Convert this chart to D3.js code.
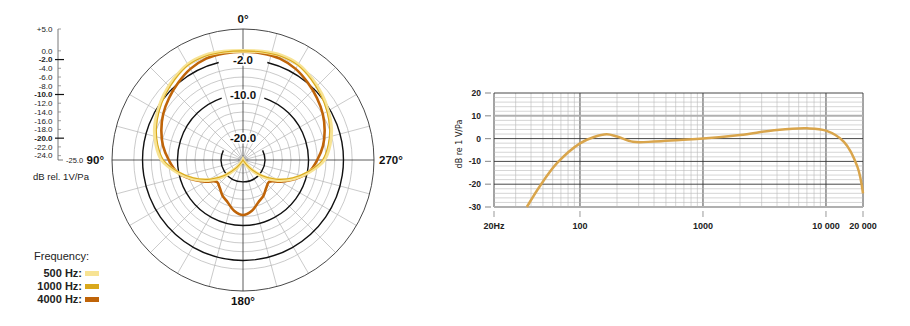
<!DOCTYPE html>
<html>
<head>
<meta charset="utf-8">
<script src="https://cdn.jsdelivr.net/npm/d3@7"></script>
<style>
  body { margin: 0; background: #fff; }
  svg { font-family: "Liberation Sans", Arial, sans-serif; }
</style>
</head>
<body>
<div id="chart"></div>
<script>

// polar pattern, dB per angle (0 = front, 90 = left, 270 = right)
var polarAngles = [0,10,20,30,40,50,60,70,80,90,100,110,120,130,140,150,160,170,
                   180,190,200,210,220,230,240,250,260,270,280,290,300,310,320,330,340,350];
var polar500  = [0,0.2,0.5,0.3,-0.6,-1.5,-2.5,-3.5,-4.8,-6.4,-9.5,-12.6,-15.8,-19.2,-22.5,-24.6,-25,-25,
                 -25,-25,-25,-24.6,-22.5,-19.2,-15.8,-12.6,-9.5,-6.4,-4.8,-3.5,-2.5,-1.5,-0.6,0.3,0.5,0.2];
var polar1000 = [0,0.1,0.3,0.1,-0.8,-1.8,-2.8,-3.9,-5.2,-6.8,-9.8,-13,-16.2,-19.6,-22.8,-24.8,-25,-25,
                 -25,-25,-25,-24.8,-22.8,-19.6,-16.2,-13,-9.8,-6.8,-5.2,-3.9,-2.8,-1.8,-0.8,0.1,0.3,0.1];
var polar4000 = [-0.2,-0.2,-0.3,-0.9,-1.9,-2.9,-3.9,-5.1,-6.4,-8.0,-9.6,-12.3,-15.1,-17.2,-16.7,-15.6,-14.7,-13.2,
                 -12.4,-13.2,-14.7,-15.6,-16.7,-17.2,-15.1,-12.3,-9.6,-8.0,-6.4,-5.1,-3.9,-2.9,-1.9,-0.9,-0.3,-0.2];
var polarTicks = [5,0,-2,-4,-6,-8,-10,-12,-14,-16,-18,-20,-22,-24];
var polarRings = [0,-2,-4,-6,-8,-10,-12,-14,-16,-18,-20,-22,-24];
var polarBold = [-2,-10,-20];
var degreeLabels = ["0°","90°","180°","270°"];
var legendLabels = ["500 Hz:","1000 Hz:","4000 Hz:"];
var legendColors = ["#f7e394","#d9a81c","#bf6409"];

// frequency response
var respFreq = [37,47,65,100,130,165,200,270,400,650,1000,2000,4000,7000,10000,14000,18000,20000];
var respDb   = [-30,-21,-10.8,-2.1,0.7,1.9,0.9,-1.4,-1.3,-0.6,0,1.6,3.8,4.5,3.5,-1.4,-12.3,-24];
var respYTicks = [20,10,0,-10,-20,-30];
var respXTicks = [20,100,1000,10000,20000];
var respXLabels = ["20Hz","100","1000","10 000","20 000"];

var svg = d3.select("#chart").append("svg")
    .attr("width", 910)
    .attr("height", 326);

// ---------- polar ----------
var cx = 243, cy = 160, R = 131;
var r = d3.scaleLinear().domain([-25, 5]).range([0, R]).clamp(true);

var polar = svg.append("g")
    .attr("transform", "translate(" + cx + "," + cy + ")");

polar.selectAll(".ring")
    .data(polarRings.filter(function(d){ return polarBold.indexOf(d) < 0; }))
  .enter().append("circle")
    .attr("r", function(d){ return r(d); })
    .style("fill", "none")
    .style("stroke", "#b3b3b3")
    .style("stroke-width", 0.7);

var spokes = d3.range(0, 360, 15).filter(function(a){ return a % 90 != 0; });
polar.selectAll(".spoke")
    .data(spokes)
  .enter().append("line")
    .attr("x1", 0).attr("y1", 0)
    .attr("x2", function(a){ return -R * Math.sin(a * Math.PI / 180); })
    .attr("y2", function(a){ return -R * Math.cos(a * Math.PI / 180); })
    .style("stroke", "#b3b3b3")
    .style("stroke-width", 0.7);

polar.append("line").attr("x1", -R).attr("x2", R).attr("y1", 0).attr("y2", 0)
    .style("stroke", "#333").style("stroke-width", 0.8);
polar.append("line").attr("y1", -R).attr("y2", R).attr("x1", 0).attr("x2", 0)
    .style("stroke", "#333").style("stroke-width", 0.8);

polar.append("circle").attr("r", R)
    .style("fill", "none").style("stroke", "#333").style("stroke-width", 0.9);
polar.append("circle").attr("r", 3)
    .style("fill", "#bbb").style("stroke", "#999").style("stroke-width", 0.5);

// bold rings, with a gap at the top for their label
var gaps = {"-2": 14, "-10": 19, "-20": 64};
polar.selectAll(".boldring")
    .data(polarBold)
  .enter().append("path")
    .attr("d", function(d){
      var g = gaps[d] * Math.PI / 180;
      return d3.arc().innerRadius(r(d)).outerRadius(r(d))
        .startAngle(g).endAngle(2 * Math.PI - g)();
    })
    .style("fill", "none")
    .style("stroke", "#111")
    .style("stroke-width", 1.4);

var radial = d3.lineRadial()
    .angle(function(d){ return -d[0] * Math.PI / 180; })
    .radius(function(d){ return r(d[1]); })
    .curve(d3.curveCatmullRomClosed.alpha(0.5));

function pairs(vals){ return polarAngles.map(function(a, i){ return [a, vals[i]]; }); }

polar.append("path").attr("d", radial(pairs(polar4000)))
    .style("fill", "none").style("stroke", legendColors[2]).style("stroke-width", 2.6);
polar.append("path").attr("d", radial(pairs(polar500)))
    .style("fill", "none").style("stroke", legendColors[0]).style("stroke-width", 3.6);
polar.append("path").attr("d", radial(pairs(polar1000)))
    .style("fill", "none").style("stroke", legendColors[1]).style("stroke-width", 1.1);

polar.selectAll(".ringlabel")
    .data(polarBold)
  .enter().append("text")
    .attr("x", 0)
    .attr("y", function(d){ return -r(d); })
    .attr("dy", "0.36em")
    .style("text-anchor", "middle")
    .style("font-size", "11.5px")
    .style("font-weight", "bold")
    .style("fill", "#111")
    .style("stroke", "#fff")
    .style("stroke-width", 3)
    .style("paint-order", "stroke")
    .text(function(d){ return d.toFixed(1); });

// degree labels
var degPos = [[0, -R - 6, "middle"], [-R - 8, 4, "end"], [0, R + 14, "middle"], [R + 5, 4, "start"]];
polar.selectAll(".deg")
    .data(degreeLabels)
  .enter().append("text")
    .attr("x", function(d, i){ return degPos[i][0]; })
    .attr("y", function(d, i){ return degPos[i][1]; })
    .style("text-anchor", function(d, i){ return degPos[i][2]; })
    .style("font-size", "11.5px")
    .style("font-weight", "bold")
    .style("fill", "#111")
    .text(function(d){ return d; });

// left dB scale
var ys = d3.scaleLinear().domain([-25, 5]).range([cy, cy - R]);
var scale = svg.append("g");
scale.append("path")
    .attr("d", "M58," + ys(5) + "V" + ys(-25) + "H63")
    .style("fill", "none").style("stroke", "#555").style("stroke-width", 0.8);
scale.selectAll(".tk")
    .data(polarTicks)
  .enter().append("line")
    .attr("x1", function(d){ return polarBold.indexOf(d) >= 0 ? 55 : 58; })
    .attr("x2", function(d){ return polarBold.indexOf(d) >= 0 ? 64 : 61; })
    .attr("y1", function(d){ return ys(d); })
    .attr("y2", function(d){ return ys(d); })
    .style("stroke", function(d){ return polarBold.indexOf(d) >= 0 ? "#111" : "#777"; })
    .style("stroke-width", function(d){ return polarBold.indexOf(d) >= 0 ? 1.2 : 0.7; });
scale.selectAll(".tl")
    .data(polarTicks)
  .enter().append("text")
    .attr("x", 52.5)
    .attr("y", function(d){ return ys(d); })
    .attr("dy", "0.35em")
    .style("text-anchor", "end")
    .style("font-size", "8px")
    .style("font-weight", function(d){ return polarBold.indexOf(d) >= 0 ? "bold" : "normal"; })
    .style("fill", "#222")
    .text(function(d){ return (d > 0 ? "+" : "") + d.toFixed(1); });
scale.append("text")
    .attr("x", 66).attr("y", ys(-25)).attr("dy", "0.35em")
    .style("font-size", "7.5px").style("fill", "#222")
    .text((-25).toFixed(1));
scale.append("text")
    .attr("x", 33).attr("y", 180)
    .style("font-size", "9.5px").style("fill", "#222")
    .text("dB rel. 1V/Pa");

// legend
var legend = svg.append("g");
legend.append("text")
    .attr("x", 34).attr("y", 260)
    .style("font-size", "11px").style("fill", "#222")
    .text("Frequency:");
legend.selectAll(".ll")
    .data(legendLabels)
  .enter().append("text")
    .attr("x", 82)
    .attr("y", function(d, i){ return 277 + i * 13; })
    .style("text-anchor", "end")
    .style("font-size", "11px")
    .style("font-weight", "bold")
    .style("fill", "#222")
    .text(function(d){ return d; });
legend.selectAll(".sw")
    .data(legendColors)
  .enter().append("rect")
    .attr("x", 85)
    .attr("y", function(d, i){ return 271 + i * 13; })
    .attr("width", 14)
    .attr("height", 5)
    .style("fill", function(d){ return d; });

// ---------- frequency response ----------
var x = d3.scaleLog().domain([20, 20000]).range([494, 863]);
var y = d3.scaleLinear().domain([-30, 20]).range([207, 93]);
var resp = svg.append("g");

resp.selectAll(".vg")
    .data(x.ticks())
  .enter().append("line")
    .attr("x1", function(d){ return x(d); })
    .attr("x2", function(d){ return x(d); })
    .attr("y1", y(20)).attr("y2", y(-30))
    .style("stroke", function(d){ return respXTicks.indexOf(d) >= 0 ? "#333" : "#b8b8b8"; })
    .style("stroke-width", function(d){ return respXTicks.indexOf(d) >= 0 ? 0.9 : 0.6; });

resp.selectAll(".hg")
    .data(y.ticks(25))
  .enter().append("line")
    .attr("x1", x(20)).attr("x2", x(20000))
    .attr("y1", function(d){ return y(d); })
    .attr("y2", function(d){ return y(d); })
    .style("stroke", function(d){
      if (d == 10 || d == -30) return "#b0b0b0";
      return d % 10 == 0 ? "#333" : "#b8b8b8";
    })
    .style("stroke-width", function(d){
      if (d == 10 || d == -30) return 2;
      return d % 10 == 0 ? 0.9 : 0.6;
    });

resp.selectAll(".yt")
    .data(respYTicks)
  .enter().append("line")
    .attr("x1", 485).attr("x2", 491)
    .attr("y1", function(d){ return y(d); })
    .attr("y2", function(d){ return y(d); })
    .style("stroke", "#999").style("stroke-width", 1.2);
resp.selectAll(".yl")
    .data(respYTicks)
  .enter().append("text")
    .attr("x", 481)
    .attr("y", function(d){ return y(d); })
    .attr("dy", "0.35em")
    .style("text-anchor", "end")
    .style("font-size", "8.5px")
    .style("font-weight", "bold")
    .style("fill", "#222")
    .text(function(d){ return d; });

resp.selectAll(".xt")
    .data(respXTicks)
  .enter().append("line")
    .attr("x1", function(d){ return x(d); })
    .attr("x2", function(d){ return x(d); })
    .attr("y1", 211).attr("y2", 217)
    .style("stroke", "#999").style("stroke-width", 1);
resp.selectAll(".xl")
    .data(respXTicks)
  .enter().append("text")
    .attr("x", function(d){ return x(d); })
    .attr("y", 229)
    .style("text-anchor", "middle")
    .style("font-size", "9px")
    .style("font-weight", "bold")
    .style("fill", "#222")
    .text(function(d, i){ return respXLabels[i]; });

resp.append("text")
    .attr("transform", "translate(462,144) rotate(-90)")
    .style("text-anchor", "middle")
    .style("font-family", "'DejaVu Sans', sans-serif")
    .style("font-size", "8px")
    .style("fill", "#222")
    .text("dB re 1 V/Pa");

var line = d3.line()
    .x(function(d, i){ return x(respFreq[i]); })
    .y(function(d){ return y(d); })
    .curve(d3.curveCatmullRom.alpha(0.5));

resp.append("path")
    .attr("d", line(respDb))
    .style("fill", "none")
    .style("stroke", "#d9a54c")
    .style("stroke-width", 2.5);

</script>
</body>
</html>
